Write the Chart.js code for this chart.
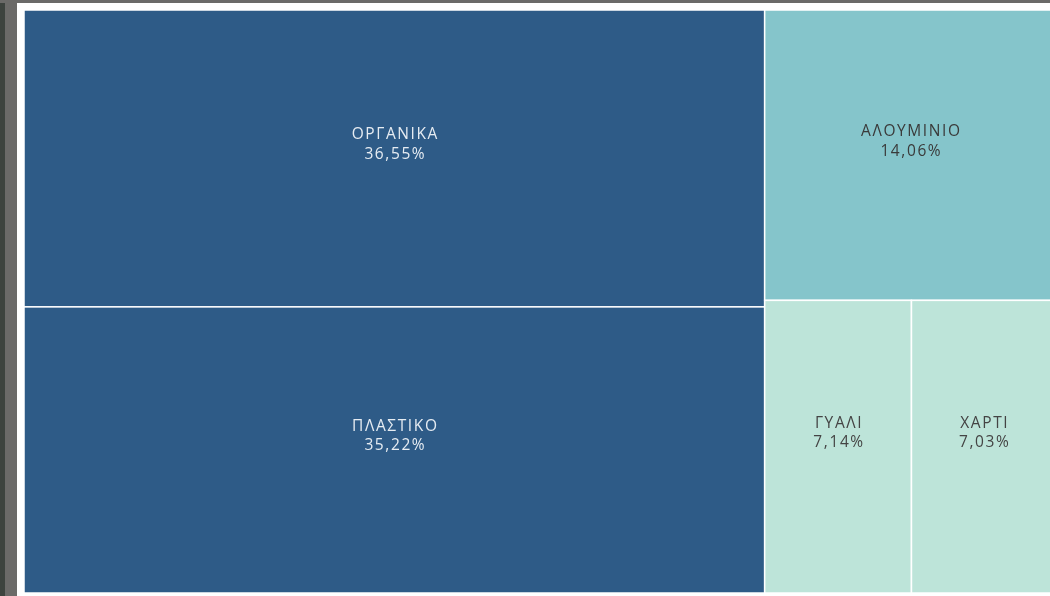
<!DOCTYPE html>
<html>
<head>
<meta charset="utf-8">
<script src="https://cdn.jsdelivr.net/npm/chart.js@4.4.1/dist/chart.umd.min.js"></script>
<style>
  html, body { margin: 0; padding: 0; background: #ffffff; width: 1050px; height: 596px; overflow: hidden; }
  #edge { position: absolute; left: 0; top: 0; width: 5px; height: 596px; background: #3d433e; }
  #frameLeft { position: absolute; left: 5px; top: 0; width: 12px; height: 596px; background: #6b6a68; }
  #frameTop { position: absolute; left: 0; top: 0; width: 1050px; height: 3px; background: #6b6a68; }
  #wrap { position: absolute; left: 24px; top: 10px; width: 1032px; height: 583px; }
</style>
</head>
<body>
<div id="edge"></div>
<div id="frameLeft"></div>
<div id="frameTop"></div>
<div id="wrap"><canvas id="myChart"></canvas></div>
<script>
'use strict';

// DATA
let categories = ['ΟΡΓΑΝΙΚΑ', 'ΠΛΑΣΤΙΚΟ', 'ΑΛΟΥΜΙΝΙΟ', 'ΓΥΑΛΙ', 'ΧΑΡΤΙ'];
let shares = [36.55, 35.22, 14.06, 7.14, 7.03];
let cellColors = ['#2e5b87', '#2e5b87', '#85c5cb', '#bde4d9', '#bde4d9'];
let textColors = ['#e6ecf2', '#e6ecf2', '#3a3a3a', '#444444', '#444444'];

// HELPERS
function formatShare(v){
  return v.toFixed(2).replace('.', ',') + '%';
}

// strip treemap in data units (0..100 on both axes), aspect checked in pixels
function layoutCells(values, kx, ky){
  let cells = [];
  let rect = { x: 0, y: 0, w: 100, h: 100 };
  let idx = values.map((v, i) => i);
  let remaining = values.reduce((a, b) => a + b, 0);

  function worst(row, column){
    let sum = row.reduce((a, i) => a + values[i], 0);
    let frac = sum / remaining;
    let thick = column ? rect.w * kx * frac : rect.h * ky * frac;
    let len = column ? rect.h * ky : rect.w * kx;
    let w = 0;
    row.forEach(i => {
      let side = len * values[i] / sum;
      w = Math.max(w, thick / side, side / thick);
    });
    return w;
  }

  while (idx.length){
    let column = rect.w * kx >= rect.h * ky;
    let row = [idx.shift()];
    while (idx.length && worst(row.concat(idx[0]), column) <= 3){
      row.push(idx.shift());
    }
    let sum = row.reduce((a, i) => a + values[i], 0);
    let frac = idx.length ? sum / remaining : 1;
    let offset = 0;
    row.forEach(i => {
      let part = values[i] / sum;
      if (column){
        cells.push({ i: i, x: rect.x, y: rect.y + offset, w: rect.w * frac, h: rect.h * part });
        offset += rect.h * part;
      } else {
        cells.push({ i: i, x: rect.x + offset, y: rect.y, w: rect.w * part, h: rect.h * frac });
        offset += rect.w * part;
      }
    });
    if (column){
      rect = { x: rect.x + rect.w * frac, y: rect.y, w: rect.w * (1 - frac), h: rect.h };
    } else {
      rect = { x: rect.x, y: rect.y + rect.h * frac, w: rect.w, h: rect.h * (1 - frac) };
    }
    remaining -= sum;
  }
  return cells;
}

// PLUGIN
const treemapPlugin = {
  id: 'treemapCells',
  beforeDatasetsDraw(chart){
    let ctx = chart.ctx;
    let xs = chart.scales.x;
    let ys = chart.scales.y;
    let area = chart.chartArea;
    let cells = layoutCells(shares, area.width / 100, area.height / 100);

    cells.forEach(c => {
      let left = xs.getPixelForValue(c.x);
      let right = xs.getPixelForValue(c.x + c.w);
      let top = ys.getPixelForValue(c.y);
      let bottom = ys.getPixelForValue(c.y + c.h);

      ctx.save();
      ctx.fillStyle = cellColors[c.i];
      ctx.fillRect(left, top, right - left, bottom - top);
      ctx.strokeStyle = '#ffffff';
      ctx.lineWidth = 1.5;
      ctx.strokeRect(left, top, right - left, bottom - top);

      let cx = (left + right) / 2 + 1;
      let cy = (top + bottom) / 2 - 14;
      ctx.fillStyle = textColors[c.i];
      ctx.font = '15.5px "Open Sans", "Noto Sans", sans-serif';
      ctx.letterSpacing = '1.6px';
      ctx.textAlign = 'center';
      ctx.textBaseline = 'middle';
      ctx.fillText(categories[c.i], cx, cy - 9.5);
      ctx.fillText(formatShare(shares[c.i]), cx, cy + 10);
      ctx.restore();
    });
  }
};

const ctx = document.getElementById('myChart');
const myChart = new Chart(ctx, {
  type: 'scatter',
  data: {
    datasets: [{ label: 'share', data: [] }]
  },
  options: {
    responsive: true,
    maintainAspectRatio: false,
    animation: false,
    layout: { padding: 0 },
    scales: {
      x: { type: 'linear', min: 0, max: 100, display: false },
      y: { type: 'linear', min: 0, max: 100, reverse: true, display: false }
    },
    plugins: {
      legend: { display: false },
      tooltip: { enabled: false }
    }
  },
  plugins: [treemapPlugin]
});
</script>
</body>
</html>
